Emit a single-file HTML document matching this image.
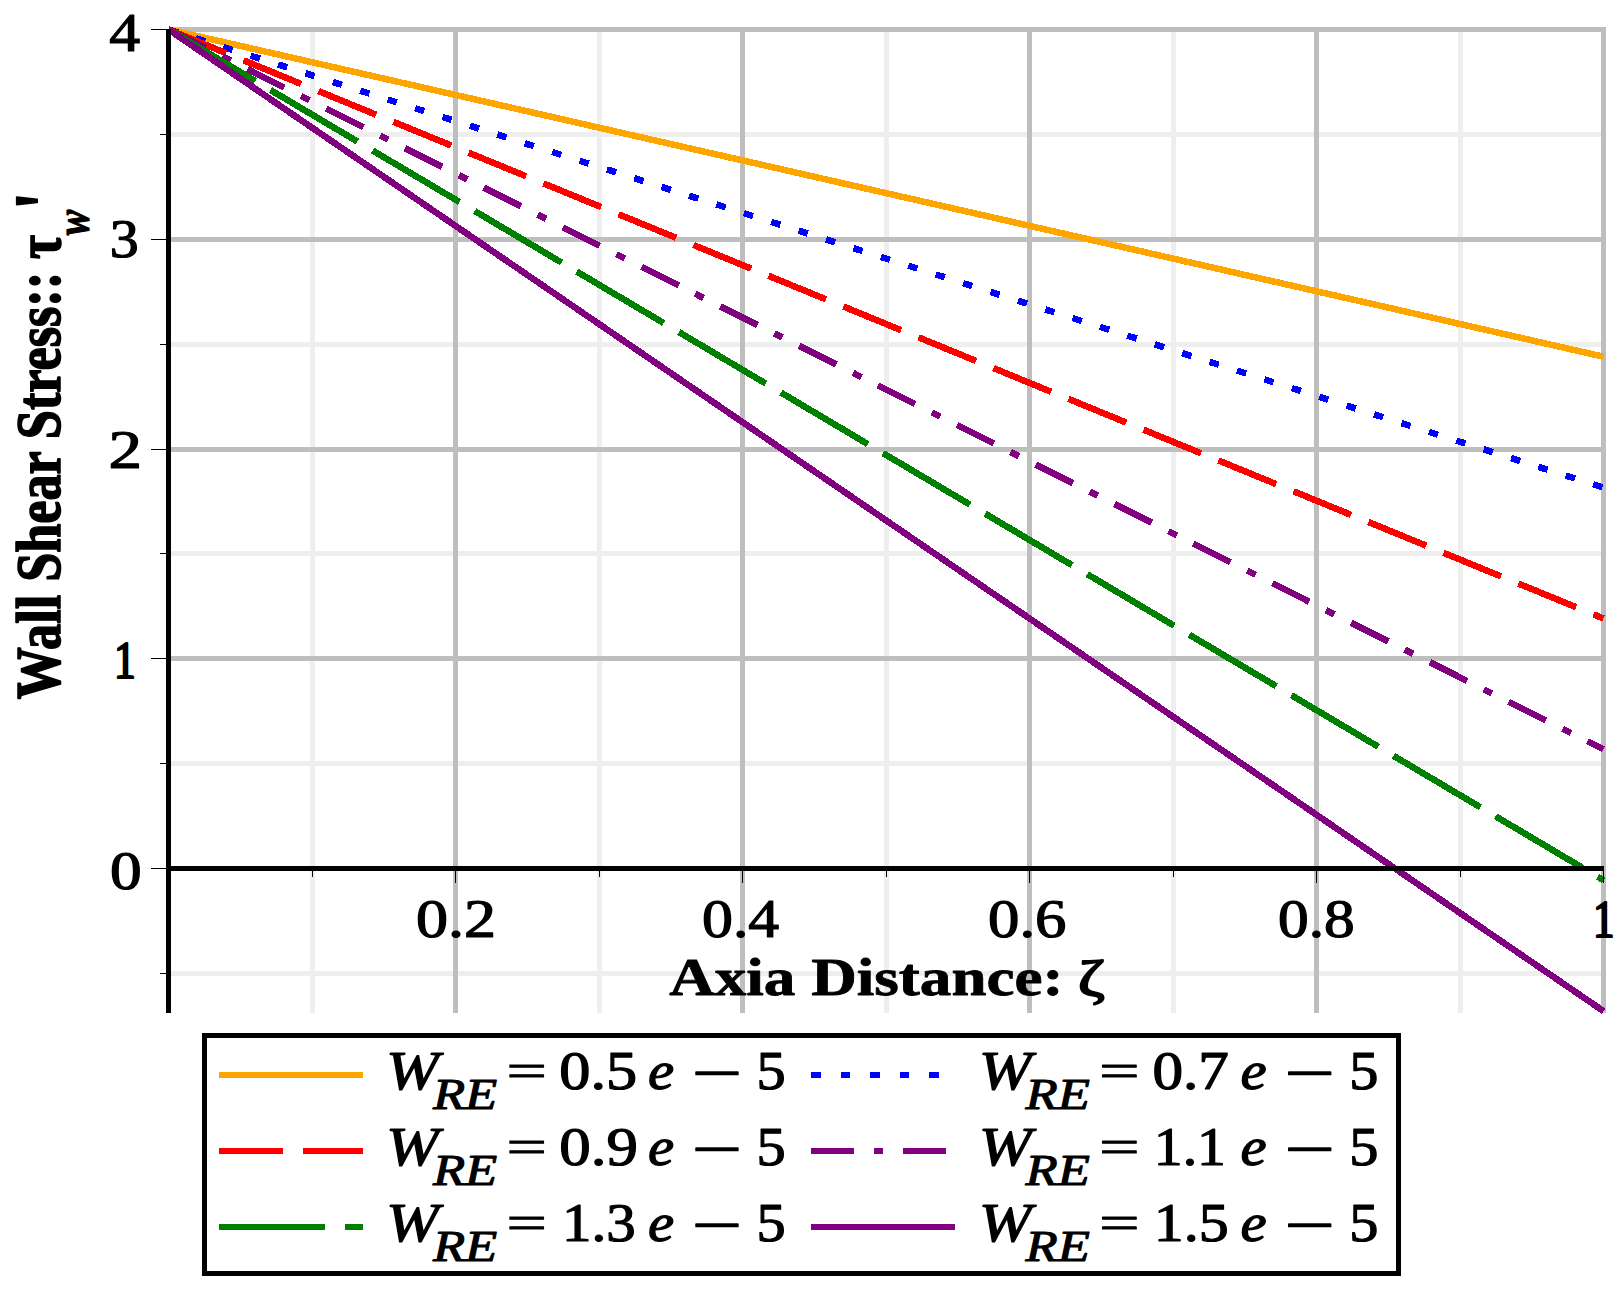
<!DOCTYPE html>
<html lang="en"><head><meta charset="utf-8"><title>Wall Shear Stress vs Axial Distance</title>
<style>html,body{margin:0;padding:0;background:#fff}body{width:1623px;height:1290px;overflow:hidden}svg{display:block}text{font-family:"Liberation Serif","DejaVu Serif",serif;fill:#000;stroke:#000;stroke-linejoin:round}</style></head><body>
<svg xmlns="http://www.w3.org/2000/svg" width="1623" height="1290" viewBox="0 0 1623 1290">
<rect width="1623" height="1290" fill="#fff"/>
<g shape-rendering="crispEdges">
<rect x="310" y="27" width="5" height="986" fill="#eeeeee"/>
<rect x="597" y="27" width="5" height="986" fill="#eeeeee"/>
<rect x="884" y="27" width="5" height="986" fill="#eeeeee"/>
<rect x="1171" y="27" width="5" height="986" fill="#eeeeee"/>
<rect x="1458" y="27" width="5" height="986" fill="#eeeeee"/>
<rect x="168.5" y="132" width="1435.5" height="5" fill="#eeeeee"/>
<rect x="168.5" y="342" width="1435.5" height="5" fill="#eeeeee"/>
<rect x="168.5" y="551" width="1435.5" height="5" fill="#eeeeee"/>
<rect x="168.5" y="761" width="1435.5" height="5" fill="#eeeeee"/>
<rect x="168.5" y="971" width="1435.5" height="5" fill="#eeeeee"/>
<rect x="453" y="27" width="5" height="986" fill="#bebebe"/>
<rect x="740" y="27" width="5" height="986" fill="#bebebe"/>
<rect x="1027" y="27" width="5" height="986" fill="#bebebe"/>
<rect x="1314" y="27" width="5" height="986" fill="#bebebe"/>
<rect x="1601" y="27" width="5" height="986" fill="#bebebe"/>
<rect x="168.5" y="27" width="1437.5" height="5" fill="#bebebe"/>
<rect x="168.5" y="237" width="1437.5" height="5" fill="#bebebe"/>
<rect x="168.5" y="447" width="1437.5" height="5" fill="#bebebe"/>
<rect x="168.5" y="656" width="1437.5" height="5" fill="#bebebe"/>
</g>
<g fill="none" stroke-linecap="butt" shape-rendering="crispEdges">
<line x1="168.50" y1="29.50" x2="1603.50" y2="356.71" stroke="#ffa500" stroke-width="6.5"/>
<line x1="168.50" y1="29.50" x2="1603.50" y2="487.59" stroke="#0000ff" stroke-width="6.5" stroke-dasharray="9.60 19.16"/>
<line x1="168.50" y1="29.50" x2="1603.50" y2="618.48" stroke="#ff0000" stroke-width="6.5" stroke-dasharray="62.30 18.77"/>
<line x1="168.50" y1="29.50" x2="1603.50" y2="749.36" stroke="#800080" stroke-width="6.5" stroke-dasharray="41.50 18.70 9.30 18.70"/>
<line x1="168.50" y1="29.50" x2="1603.50" y2="880.25" stroke="#008000" stroke-width="6.5" stroke-dasharray="101.00 17.67"/>
<line x1="168.50" y1="29.50" x2="1603.50" y2="1011.13" stroke="#800080" stroke-width="6.5"/>
</g>
<g shape-rendering="crispEdges" fill="#000">
<rect x="166.0" y="866.0" width="1438.0" height="5"/>
<rect x="166.0" y="29.0" width="5" height="984.0"/>
<rect x="151" y="29.0" width="15" height="1"/>
<rect x="151" y="238.8" width="15" height="1"/>
<rect x="151" y="448.5" width="15" height="1"/>
<rect x="151" y="658.2" width="15" height="1"/>
<rect x="151" y="868.0" width="15" height="1"/>
<rect x="160" y="133.9" width="6" height="1"/>
<rect x="160" y="343.6" width="6" height="1"/>
<rect x="160" y="553.4" width="6" height="1"/>
<rect x="160" y="763.1" width="6" height="1"/>
<rect x="160" y="972.9" width="6" height="1"/>
<rect x="311.5" y="871.0" width="1" height="6"/>
<rect x="455.0" y="871.0" width="1" height="12"/>
<rect x="598.5" y="871.0" width="1" height="6"/>
<rect x="742.0" y="871.0" width="1" height="12"/>
<rect x="885.5" y="871.0" width="1" height="6"/>
<rect x="1029.0" y="871.0" width="1" height="12"/>
<rect x="1172.5" y="871.0" width="1" height="6"/>
<rect x="1316.0" y="871.0" width="1" height="12"/>
<rect x="1459.5" y="871.0" width="1" height="6"/>
<rect x="1603.0" y="871.0" width="1" height="12"/>
</g>
<text transform="translate(109.33,51.30) scale(1.1467,1)" font-size="53.9" stroke-width="1.2">4</text>
<text transform="translate(109.65,256.90) scale(1.0766,1)" font-size="53.9" stroke-width="1.2">3</text>
<text transform="translate(108.62,468.30) scale(1.244,1)" font-size="53.9" stroke-width="1.2">2</text>
<text transform="translate(114.00,678.40) scale(0.8289,1)" font-size="52.5" stroke-width="2.2">1</text>
<text transform="translate(110.04,888.90) scale(1.175,1)" font-size="53.9" stroke-width="1.2">0</text>
<text transform="translate(415.92,937.40) scale(1.189,1)" font-size="53.9" stroke-width="1.2">0.2</text>
<text transform="translate(701.98,937.40) scale(1.1468,1)" font-size="53.9" stroke-width="1.2">0.4</text>
<text transform="translate(988.05,937.40) scale(1.1645,1)" font-size="53.9" stroke-width="1.2">0.6</text>
<text transform="translate(1278.09,937.40) scale(1.138,1)" font-size="53.9" stroke-width="1.2">0.8</text>
<text transform="translate(1592.93,937.40) scale(0.8193,1)" font-size="52.5" stroke-width="2.2">1</text>
<text transform="translate(669.20,995.40) scale(1.1908,1)" font-size="53" stroke-width="0.8" font-weight="bold">Axia Distance:</text>
<text transform="translate(1077.99,995.80) scale(1.2883,1)" font-size="50.4" stroke-width="1.8">ζ</text>
<g font-weight="bold">
<text transform="translate(60,699.2) rotate(-90) scale(1,1.21)" font-size="52.2" stroke-width="1.3">Wall Shear Stress:: τ</text>
<text transform="translate(89.3,235.2) rotate(-90) scale(1,1.3)" font-size="38" stroke-width="0.9" font-style="italic">w</text>
<text transform="translate(72.6,209.3) rotate(-90) scale(1,1.4)" font-size="60" stroke-width="1.6">'</text>
</g>
<rect x="204.5" y="1035.5" width="1194" height="238" fill="#fff" stroke="#000" stroke-width="5" shape-rendering="crispEdges"/>
<g fill="none" shape-rendering="crispEdges" stroke-width="6">
<line x1="219" y1="1075" x2="363" y2="1075" stroke="#ffa500"/>
<line x1="219" y1="1151" x2="363" y2="1151" stroke="#ff0000" stroke-dasharray="64 20"/>
<line x1="219" y1="1227" x2="363" y2="1227" stroke="#008000" stroke-dasharray="106 20"/>
<line x1="811" y1="1075" x2="955" y2="1075" stroke="#0000ff" stroke-dasharray="9.5 20"/>
<line x1="811" y1="1151" x2="955" y2="1151" stroke="#800080" stroke-dasharray="43 20 9 20"/>
<line x1="811" y1="1227" x2="955" y2="1227" stroke="#800080"/>
</g>
<text transform="translate(386.08,1088.50) scale(1.1742,1)" font-size="53.9" stroke-width="1.2" font-style="italic">W</text>
<text transform="translate(432.91,1109.00) scale(1.2093,1)" font-size="43.6" stroke-width="1.0" font-style="italic">RE</text>
<text transform="translate(506.55,1085.80) scale(1.3257,0.85)" font-size="53.9" stroke-width="1.2">=</text>
<text transform="translate(559.27,1088.50) scale(1.1564,1)" font-size="53.9" stroke-width="1.2">0.5</text>
<text transform="translate(647.91,1088.50) scale(1.0921,1)" font-size="53.9" stroke-width="1.2" font-style="italic">e</text>
<text transform="translate(691.59,1090.50) scale(1.6533,1)" font-size="53.9" stroke-width="1.2">−</text>
<text transform="translate(756.59,1088.50) scale(1.0826,1)" font-size="53.9" stroke-width="1.2">5</text>
<text transform="translate(978.68,1088.50) scale(1.1742,1)" font-size="53.9" stroke-width="1.2" font-style="italic">W</text>
<text transform="translate(1025.51,1109.00) scale(1.2093,1)" font-size="43.6" stroke-width="1.0" font-style="italic">RE</text>
<text transform="translate(1099.15,1085.80) scale(1.3257,0.85)" font-size="53.9" stroke-width="1.2">=</text>
<text transform="translate(1152.40,1088.50) scale(1.1354,1)" font-size="53.9" stroke-width="1.2">0.7</text>
<text transform="translate(1240.51,1088.50) scale(1.0921,1)" font-size="53.9" stroke-width="1.2" font-style="italic">e</text>
<text transform="translate(1284.19,1090.50) scale(1.6533,1)" font-size="53.9" stroke-width="1.2">−</text>
<text transform="translate(1349.19,1088.50) scale(1.0826,1)" font-size="53.9" stroke-width="1.2">5</text>
<text transform="translate(386.08,1164.50) scale(1.1742,1)" font-size="53.9" stroke-width="1.2" font-style="italic">W</text>
<text transform="translate(432.91,1185.00) scale(1.2093,1)" font-size="43.6" stroke-width="1.0" font-style="italic">RE</text>
<text transform="translate(506.55,1161.80) scale(1.3257,0.85)" font-size="53.9" stroke-width="1.2">=</text>
<text transform="translate(559.25,1164.50) scale(1.1673,1)" font-size="53.9" stroke-width="1.2">0.9</text>
<text transform="translate(647.91,1164.50) scale(1.0921,1)" font-size="53.9" stroke-width="1.2" font-style="italic">e</text>
<text transform="translate(691.59,1166.50) scale(1.6533,1)" font-size="53.9" stroke-width="1.2">−</text>
<text transform="translate(756.59,1164.50) scale(1.0826,1)" font-size="53.9" stroke-width="1.2">5</text>
<text transform="translate(978.68,1164.50) scale(1.1742,1)" font-size="53.9" stroke-width="1.2" font-style="italic">W</text>
<text transform="translate(1025.51,1185.00) scale(1.2093,1)" font-size="43.6" stroke-width="1.0" font-style="italic">RE</text>
<text transform="translate(1099.15,1161.80) scale(1.3257,0.85)" font-size="53.9" stroke-width="1.2">=</text>
<text transform="translate(1153.85,1164.50) scale(1.0694,1)" font-size="53.9" stroke-width="1.2">1.1</text>
<text transform="translate(1240.51,1164.50) scale(1.0921,1)" font-size="53.9" stroke-width="1.2" font-style="italic">e</text>
<text transform="translate(1284.19,1166.50) scale(1.6533,1)" font-size="53.9" stroke-width="1.2">−</text>
<text transform="translate(1349.19,1164.50) scale(1.0826,1)" font-size="53.9" stroke-width="1.2">5</text>
<text transform="translate(386.08,1240.50) scale(1.1742,1)" font-size="53.9" stroke-width="1.2" font-style="italic">W</text>
<text transform="translate(432.91,1261.00) scale(1.2093,1)" font-size="43.6" stroke-width="1.0" font-style="italic">RE</text>
<text transform="translate(506.55,1237.80) scale(1.3257,0.85)" font-size="53.9" stroke-width="1.2">=</text>
<text transform="translate(562.05,1240.50) scale(1.0943,1)" font-size="53.9" stroke-width="1.2">1.3</text>
<text transform="translate(647.91,1240.50) scale(1.0921,1)" font-size="53.9" stroke-width="1.2" font-style="italic">e</text>
<text transform="translate(691.59,1242.50) scale(1.6533,1)" font-size="53.9" stroke-width="1.2">−</text>
<text transform="translate(756.59,1240.50) scale(1.0826,1)" font-size="53.9" stroke-width="1.2">5</text>
<text transform="translate(978.68,1240.50) scale(1.1742,1)" font-size="53.9" stroke-width="1.2" font-style="italic">W</text>
<text transform="translate(1025.51,1261.00) scale(1.2093,1)" font-size="43.6" stroke-width="1.0" font-style="italic">RE</text>
<text transform="translate(1099.15,1237.80) scale(1.3257,0.85)" font-size="53.9" stroke-width="1.2">=</text>
<text transform="translate(1153.67,1240.50) scale(1.1122,1)" font-size="53.9" stroke-width="1.2">1.5</text>
<text transform="translate(1240.51,1240.50) scale(1.0921,1)" font-size="53.9" stroke-width="1.2" font-style="italic">e</text>
<text transform="translate(1284.19,1242.50) scale(1.6533,1)" font-size="53.9" stroke-width="1.2">−</text>
<text transform="translate(1349.19,1240.50) scale(1.0826,1)" font-size="53.9" stroke-width="1.2">5</text>
</svg></body></html>
